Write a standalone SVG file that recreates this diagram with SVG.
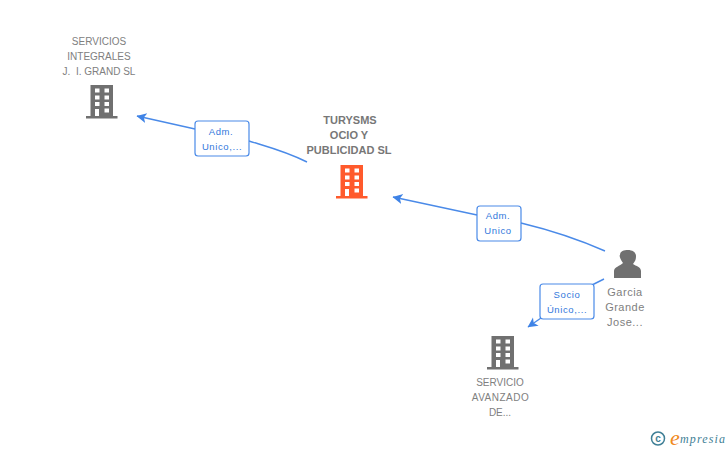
<svg xmlns="http://www.w3.org/2000/svg" width="728" height="450" viewBox="0 0 728 450">
<style>
text{font-family:"Liberation Sans",Arial,sans-serif}
.n{font-size:10px;fill:#808080;text-anchor:middle}
.b{font-weight:bold;font-size:11px;fill:#777}
.p{font-size:11px;letter-spacing:.5px}
.w{letter-spacing:.5px}
.l{font-size:9.500px;fill:#3278dc;text-anchor:middle;letter-spacing:.6px}
.c{fill:none;stroke:#4a8ae8;stroke-width:1.400}
.box{fill:#fff;stroke:#4a8ae8;stroke-width:1.200}
</style>
<defs>
<marker id="a" markerUnits="userSpaceOnUse" markerWidth="12" markerHeight="12" refX="9.500" refY="5" orient="auto"><path d="M10 5L0 0L2.500 5L0 10Z" fill="#3f83e6"/></marker>
<g id="bld">
<path d="M-11.500 -17H11V14H15.500V16.500H-16V14H-11.500ZM-7 -13.500V-9.500H-2.500V-13.500ZM2.500 -13.500V-9.500H7V-13.500ZM-7 -6.500V-2.500H-2.500V-6.500ZM2.500 -6.500V-2.500H7V-6.500ZM-7 0V4H-2.500V0ZM2.500 0V4H7V0ZM-7 7V14H-3V7ZM2.500 6.500V10.500H7V6.500Z" fill-rule="evenodd"/>
</g>
</defs>
<g id="connectors">
<path class="c" d="M307 162C285 151 265 146 249 141"/>
<path class="c" marker-end="url(#a)" d="M195 129L137 116"/>
<path class="c" d="M605 251C580 240 550 230 521 223"/>
<path class="c" marker-end="url(#a)" d="M477 215L393 197"/>
<path class="c" d="M604 279L592 285"/>
<path class="c" marker-end="url(#a)" d="M541 318L528 327"/>
</g>
<g id="edge-label-1"><rect class="box" x="195" y="121" width="54" height="35" rx="3"/><text class="l" x="221" y="135">Adm.</text><text class="l" x="222" y="150">Unico,...</text></g>
<g id="edge-label-2"><rect class="box" x="477" y="206" width="44" height="35" rx="3"/><text class="l" x="498" y="219">Adm.</text><text class="l" x="498" y="234">Unico</text></g>
<g id="edge-label-3"><rect class="box" x="540" y="284" width="54" height="35" rx="3"/><text class="l" x="567" y="298">Socio</text><text class="l" x="567" y="313">Único,...</text></g>
<g id="node-servicios"><text class="n" x="99" y="45">SERVICIOS</text><text class="n" x="99" y="60">INTEGRALES</text><text class="n" x="99" y="75">J. &#160;I. GRAND SL</text><use href="#bld" x="102" y="102" fill="#707070"/></g>
<g id="node-turysms"><text class="n b" x="350" y="124">TURYSMS</text><text class="n b" x="349" y="139">OCIO Y</text><text class="n b" x="349" y="154">PUBLICIDAD SL</text><use href="#bld" x="352" y="182" fill="#ff5a2c"/></g>
<g id="node-garcia"><path d="M614 278V271C614 267 620 266 623 263C620 259 619 255 620 255C620 251 624 250 628 250C632 250 636 252 636 256C636 260 635 261 633 264C636 266 641 267 641 271V278Z" fill="#707070"/><text class="n p" x="625" y="296">Garcia</text><text class="n p" x="625" y="311">Grande</text><text class="n p" x="625" y="326">Jose...</text></g>
<g id="node-avanzado"><use href="#bld" x="503" y="353" fill="#707070"/><text class="n" x="500" y="386">SERVICIO</text><text class="n w" x="500.500" y="401">AVANZADO</text><text class="n" x="500" y="416">DE...</text></g>
<g id="logo"><circle cx="658" cy="438.500" r="6.500" fill="none" stroke="#3f7f96" stroke-width="1.500"/><text x="658" y="442" font-size="10" font-weight="bold" text-anchor="middle" fill="#3f7f96">c</text><text x="670" y="445" font-size="22" font-style="italic" fill="#f08a1d" style="font-family:'Liberation Serif',serif">e</text><text x="680" y="443" font-size="12" font-style="italic" fill="#3f7f96" style="font-family:'Liberation Serif',serif" textLength="45">mpresia</text></g>
</svg>
